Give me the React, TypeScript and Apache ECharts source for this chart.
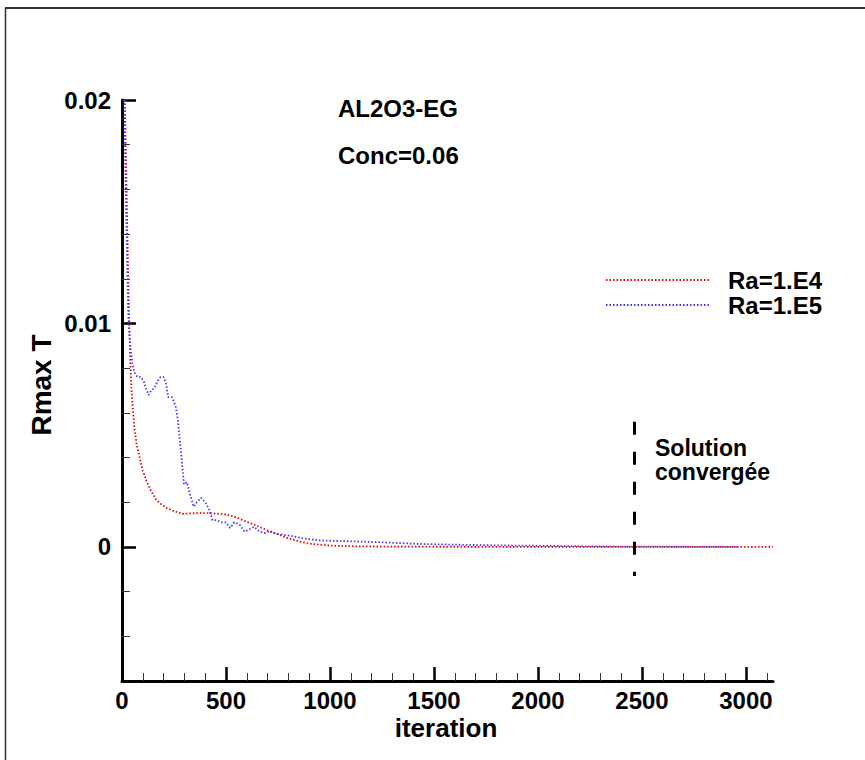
import React, { useEffect, useRef } from "react";
import * as echarts from "echarts";

// ---- data ----
const iterRa4 = [14, 22, 30, 36, 40, 46, 52, 60, 70, 85, 100, 120, 140, 165, 190, 215, 250, 290, 330, 380, 440, 500, 540, 580, 620, 660, 700, 740, 780, 820, 860, 900, 950, 1000, 1100, 1200, 1400, 1800, 2400, 3130];
const valRa4 = [0.02, 0.016, 0.012, 0.0095, 0.0082, 0.007, 0.0062, 0.0053, 0.0046, 0.004, 0.0034, 0.0029, 0.0025, 0.0021, 0.0019, 0.00174, 0.0016, 0.00148, 0.0015, 0.00152, 0.0015, 0.00145, 0.00135, 0.0012, 0.00105, 0.0009, 0.00074, 0.0006, 0.00045, 0.00033, 0.00022, 0.00015, 0.0001, 0.00006, 0.00003, 0.00002, 0.00001, 0.000005, 0.000002, 0];

const iterRa5 = [10, 20, 30, 40, 50, 60, 75, 90, 105, 115, 128, 140, 155, 170, 185, 200, 212, 222, 240, 258, 268, 278, 290, 298, 312, 325, 345, 360, 380, 400, 418, 435, 455, 475, 500, 520, 540, 565, 590, 615, 635, 660, 685, 710, 740, 775, 810, 860, 940, 1020, 1100, 1180, 1260, 1340, 1450, 1600, 1800, 2000, 2300, 2600, 2960];
const valRa5 = [0.02, 0.015, 0.0104, 0.009, 0.0082, 0.0078, 0.0076, 0.0076, 0.0074, 0.0071, 0.0068, 0.007, 0.0071, 0.0074, 0.0076, 0.0076, 0.0073, 0.0067, 0.0067, 0.0063, 0.0057, 0.0048, 0.0036, 0.0028, 0.0029, 0.0024, 0.0018, 0.002, 0.0022, 0.002, 0.0017, 0.0012, 0.0012, 0.0011, 0.0011, 0.00085, 0.0011, 0.001, 0.00068, 0.0008, 0.0009, 0.0007, 0.00062, 0.0007, 0.0006, 0.00054, 0.0005, 0.0004, 0.0003, 0.00027, 0.00025, 0.00023, 0.0002, 0.00017, 0.00013, 0.0001, 0.00007, 0.00005, 0.00002, 0.00001, 0];

const seriesNames = ["Ra=1.E4", "Ra=1.E5"];
const xMajorTicks = [0, 500, 1000, 1500, 2000, 2500, 3000];
const xMinorTicks = [100, 200, 300, 400, 600, 700, 800, 900, 1100, 1200, 1300, 1400, 1600, 1700, 1800, 1900, 2100, 2200, 2300, 2400, 2600, 2700, 2800, 2900, 3100];
const yMajorTicks = [0, 0.01, 0.02];
const yMinorTicks = [-0.004, -0.002, 0.002, 0.004, 0.006, 0.008, 0.012, 0.014, 0.016, 0.018];
const xRange = [0, 3130];
const yRange = [-0.006, 0.02];
const convergenceIter = 2463;
const convergenceSpan = [0.0056, -0.0013];
const annotTitle = ["AL2O3-EG", "Conc=0.06"];
const annotConv = ["Solution", "convergée"];
const xName = "iteration";
const yName = "Rmax T";

const FONT = "'Liberation Sans', Arial, sans-serif";

export default function App() {
  const ref = useRef<HTMLDivElement>(null);
  useEffect(() => {
    if (!ref.current) return;
    const chart = echarts.init(ref.current, null, { renderer: "svg" });
    const pairs = (xs: number[], ys: number[]) => xs.map((x, i) => [x, ys[i]]);
    const baseX = {
      type: "value" as const,
      min: xRange[0],
      max: xRange[1],
      position: "bottom" as const,
      splitLine: { show: false },
    };
    const baseY = {
      type: "value" as const,
      min: yRange[0],
      max: yRange[1],
      position: "left" as const,
      splitLine: { show: false },
    };
    const option: any = {
      animation: false,
      backgroundColor: "#fff",
      grid: { left: 122, top: 100, width: 651, height: 581, containLabel: false },
      xAxis: [
        {
          ...baseX,
          axisLine: { show: true, onZero: false, lineStyle: { color: "#000", width: 3 } },
          axisTick: { show: true, inside: true, length: 14, customValues: xMajorTicks, lineStyle: { color: "#000", width: 2.5 } },
          axisLabel: {
            show: true,
            customValues: xMajorTicks,
            margin: 7,
            fontSize: 24,
            fontWeight: "bold",
            fontFamily: FONT,
            color: "#000",
            formatter: (v: number) => String(v),
          },
        },
        {
          ...baseX,
          axisLine: { show: false, onZero: false },
          axisTick: { show: true, inside: true, length: 8, customValues: xMinorTicks, lineStyle: { color: "#333", width: 1 } },
          axisLabel: { show: false },
        },
      ],
      yAxis: [
        {
          ...baseY,
          axisLine: { show: true, onZero: false, lineStyle: { color: "#000", width: 3 } },
          axisTick: { show: true, inside: true, length: 14, customValues: yMajorTicks, lineStyle: { color: "#000", width: 2.5 } },
          axisLabel: {
            show: true,
            customValues: yMajorTicks,
            margin: 11,
            fontSize: 24,
            fontWeight: "bold",
            fontFamily: FONT,
            color: "#000",
            formatter: (v: number) => (v === 0 ? "0" : String(Number(v.toFixed(3)))),
          },
        },
        {
          ...baseY,
          axisLine: { show: false, onZero: false },
          axisTick: { show: true, inside: true, length: 8, customValues: yMinorTicks, lineStyle: { color: "#333", width: 1 } },
          axisLabel: { show: false },
        },
      ],
      legend: {
        orient: "vertical",
        left: 600,
        top: 263,
        itemWidth: 105,
        itemHeight: 10,
        itemGap: 1,
        data: seriesNames,
        itemStyle: { opacity: 0 },
        textStyle: {
          fontSize: 24,
          fontWeight: "bold",
          fontFamily: FONT,
          color: "#000",
          padding: [0, 0, 0, 12],
        },
      },
      series: [
        {
          name: seriesNames[0],
          type: "line",
          data: pairs(iterRa4, valRa4),
          showSymbol: false,
          symbol: "none",
          color: "#e60000",
          lineStyle: { color: "#e60000", width: 1.8, type: [1.5, 2] },
          z: 3,
          markLine: {
            silent: true,
            symbol: ["none", "none"],
            label: { show: false },
            lineStyle: { color: "#000", width: 3, type: [13, 17] },
            data: [
              [
                { coord: [convergenceIter, convergenceSpan[0]] },
                { coord: [convergenceIter, convergenceSpan[1]] },
              ],
            ],
          },
        },
        {
          name: seriesNames[1],
          type: "line",
          data: pairs(iterRa5, valRa5),
          showSymbol: false,
          symbol: "none",
          color: "#3a3aff",
          lineStyle: { color: "#3a3aff", width: 1.8, type: [1.5, 2] },
          z: 4,
        },
      ],
      graphic: [
        { type: "line", shape: { x1: 5, y1: 8, x2: 865, y2: 8 }, style: { stroke: "#333", lineWidth: 2 } },
        { type: "line", shape: { x1: 5.5, y1: 8, x2: 5.5, y2: 760 }, style: { stroke: "#333", lineWidth: 1.5 } },
        {
          type: "text",
          x: 338,
          y: 108,
          style: { text: annotTitle[0], font: `bold 24px ${FONT}`, fill: "#000", textVerticalAlign: "middle" },
        },
        {
          type: "text",
          x: 338,
          y: 155,
          style: { text: annotTitle[1], font: `bold 24px ${FONT}`, fill: "#000", textVerticalAlign: "middle" },
        },
        {
          type: "text",
          x: 655,
          y: 448,
          style: { text: annotConv[0], font: `bold 23px ${FONT}`, fill: "#000", textVerticalAlign: "middle" },
        },
        {
          type: "text",
          x: 655,
          y: 472,
          style: { text: annotConv[1], font: `bold 23px ${FONT}`, fill: "#000", textVerticalAlign: "middle" },
        },
        {
          type: "text",
          x: 446,
          y: 728,
          style: { text: xName, font: `bold 26px ${FONT}`, fill: "#000", textAlign: "center", textVerticalAlign: "middle" },
        },
        {
          type: "text",
          x: 41,
          y: 385,
          rotation: Math.PI / 2,
          style: { text: yName, font: `bold 28px ${FONT}`, fill: "#000", textAlign: "center", textVerticalAlign: "middle" },
        },
      ],
    };
    chart.setOption(option);
    return () => chart.dispose();
  }, []);
  return (
    <div
      ref={ref}
      style={{ position: "absolute", left: 0, top: 0, width: 865, height: 760 }}
    />
  );
}
